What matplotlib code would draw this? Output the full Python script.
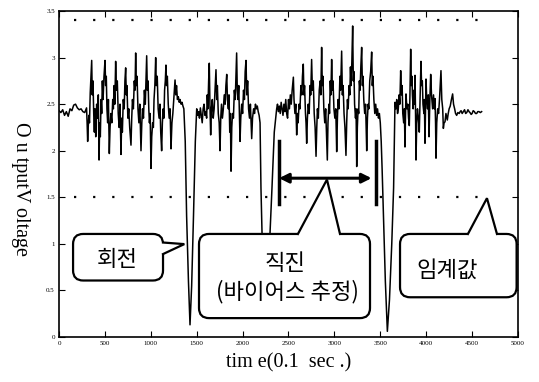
import numpy as np
import matplotlib
matplotlib.use('Agg')
import matplotlib.pyplot as plt
from matplotlib.patches import FancyBboxPatch, Polygon

plt.rcParams['font.family'] = ['Liberation Serif', 'DejaVu Serif']
KR = ['Noto Sans CJK KR', 'DejaVu Sans']

# (time [0.1 s], output voltage [V]) samples, one list per stretch of the run
idle_start = [(0, 2.43), (20, 2.41), (40, 2.44), (60, 2.38), (80, 2.42), (100, 2.37),
              (120, 2.45), (140, 2.43), (160, 2.49), (180, 2.50), (200, 2.46), (220, 2.44),
              (240, 2.45), (260, 2.42), (280, 2.41)]

run_1 = [(300, 2.46), (306, 2.30), (312, 2.10), (318, 2.25), (325, 2.38), (332, 2.30),
         (340, 2.62), (348, 2.80), (356, 2.97), (362, 2.60), (370, 2.75), (378, 2.40),
         (385, 2.20), (392, 2.45), (400, 2.15), (410, 2.50), (420, 2.35), (428, 2.60),
         (436, 1.90), (443, 2.30), (450, 2.15), (458, 2.55), (465, 2.40), (472, 2.75),
         (480, 2.55), (490, 2.80), (501, 2.97), (508, 2.70), (515, 2.80), (522, 2.45),
         (530, 2.30), (538, 2.55), (548, 1.97), (556, 2.25), (565, 2.40), (575, 2.30),
         (585, 2.55), (592, 2.45), (600, 2.70), (608, 2.50), (617, 2.96), (625, 2.65),
         (635, 2.75), (645, 2.40), (655, 2.25), (665, 2.50), (675, 1.96), (683, 2.35),
         (690, 2.20), (700, 2.55), (710, 2.45), (718, 2.75), (726, 2.89), (733, 2.60),
         (740, 2.70), (750, 2.35), (760, 2.45), (770, 2.25), (784, 2.06), (792, 2.35),
         (800, 2.55), (810, 2.45), (820, 2.75), (828, 2.65), (835, 3.05), (842, 2.70),
         (850, 2.80), (860, 2.45), (870, 2.30), (880, 2.50), (893, 2.00), (902, 2.30),
         (910, 2.45), (920, 2.35), (930, 2.65), (940, 2.50), (948, 2.80), (955, 3.02),
         (962, 2.65), (970, 2.75), (978, 2.45), (985, 2.30), (993, 2.40), (1002, 1.81),
         (1010, 2.15), (1020, 2.30), (1028, 2.25), (1035, 2.55), (1044, 2.70), (1053, 3.00),
         (1060, 2.70), (1070, 2.80), (1080, 2.45), (1090, 2.35), (1100, 2.50), (1108, 2.20),
         (1118, 2.00), (1126, 2.30), (1135, 2.45), (1143, 2.35), (1150, 2.65), (1158, 2.75),
         (1165, 2.92), (1172, 2.70), (1180, 2.80), (1190, 2.50), (1200, 2.35), (1210, 2.45),
         (1220, 2.02), (1230, 2.30), (1240, 2.40), (1250, 2.55), (1264, 2.76), (1272, 2.60),
         (1280, 2.70), (1290, 2.55), (1300, 2.58), (1310, 2.52), (1318, 2.55), (1330, 2.50),
         (1340, 2.52), (1350, 2.48), (1360, 2.45)]

turn_1 = [(1375, 2.10), (1390, 1.30), (1410, 0.60), (1427, 0.13), (1445, 0.55),
          (1465, 1.30), (1485, 2.10)]

run_2 = [(1500, 2.45), (1510, 2.38), (1520, 2.42), (1530, 2.35), (1540, 2.46), (1550, 2.38),
         (1560, 2.30), (1570, 2.45), (1580, 2.50), (1590, 2.38), (1600, 2.42), (1608, 2.35),
         (1615, 2.60), (1622, 2.45), (1630, 2.75), (1637, 2.94), (1644, 2.50), (1652, 2.17),
         (1660, 2.45), (1670, 2.55), (1680, 2.35), (1690, 2.45), (1700, 2.65), (1710, 2.87),
         (1718, 2.55), (1725, 2.70), (1735, 2.40), (1745, 2.30), (1754, 2.00), (1762, 2.35),
         (1770, 2.50), (1780, 2.35), (1790, 2.45), (1800, 2.60), (1810, 2.50), (1818, 2.70),
         (1827, 2.82), (1835, 2.55), (1845, 2.45), (1852, 2.60), (1860, 2.20), (1867, 2.40),
         (1874, 1.78), (1882, 2.25), (1890, 2.40), (1900, 2.35), (1910, 2.65), (1920, 2.55),
         (1928, 2.80), (1935, 3.05), (1942, 2.65), (1950, 2.55), (1958, 2.70), (1965, 2.40),
         (1972, 2.10), (1980, 2.35), (1990, 2.50), (2000, 2.40), (2010, 2.65), (2020, 2.55),
         (2028, 2.85), (2037, 2.97), (2045, 2.60), (2055, 2.75), (2065, 2.45), (2075, 2.35),
         (2085, 2.50), (2092, 2.30), (2099, 2.13), (2108, 2.35), (2120, 2.45), (2130, 2.40),
         (2140, 2.50), (2150, 2.45), (2160, 2.48), (2170, 2.42), (2180, 2.38)]

turn_2 = [(2190, 2.30), (2200, 1.60), (2212, 1.10), (2240, 0.85), (2270, 0.85),
          (2298, 1.10), (2320, 1.60), (2345, 2.20)]

run_3 = [(2371, 2.45), (2380, 2.50), (2390, 2.42), (2400, 2.48), (2410, 2.40), (2420, 2.52),
         (2430, 2.45), (2440, 2.38), (2450, 2.50), (2460, 2.42), (2470, 2.55), (2480, 2.40),
         (2490, 2.35), (2500, 2.55), (2510, 2.45), (2520, 2.60), (2530, 2.50), (2540, 2.65),
         (2553, 2.79), (2560, 2.55), (2570, 2.40), (2580, 2.50), (2589, 2.17), (2597, 2.40),
         (2605, 2.30), (2615, 2.50), (2625, 2.45), (2635, 2.70), (2645, 2.60), (2652, 2.80),
         (2661, 2.93), (2668, 2.60), (2675, 2.70), (2685, 2.40), (2691, 2.30), (2698, 2.08),
         (2706, 2.35), (2715, 2.50), (2725, 2.40), (2735, 2.70), (2742, 2.60), (2752, 2.98),
         (2760, 2.65), (2770, 2.75), (2780, 2.40), (2790, 2.25), (2800, 1.94), (2808, 2.25),
         (2815, 2.45), (2825, 2.35), (2835, 2.65), (2845, 2.75), (2852, 2.60), (2861, 3.11),
         (2868, 2.70), (2875, 2.80), (2885, 2.45), (2895, 2.30), (2905, 2.45), (2915, 2.15),
         (2923, 1.90), (2930, 2.30), (2940, 2.50), (2947, 2.40), (2955, 2.75), (2962, 2.60),
         (2970, 2.98), (2978, 2.65), (2985, 2.75), (2995, 2.45), (3005, 2.35), (3015, 2.45),
         (3025, 1.99), (3033, 2.35), (3040, 2.55), (3050, 2.45), (3060, 2.80), (3068, 2.65),
         (3079, 3.07), (3087, 2.60), (3095, 2.70), (3105, 2.40), (3115, 2.25), (3126, 1.95),
         (3134, 2.30), (3142, 2.55), (3150, 2.45), (3160, 2.70), (3168, 2.60), (3175, 2.90),
         (3182, 2.70), (3190, 2.95), (3199, 3.34), (3206, 2.75), (3213, 2.85), (3220, 2.50),
         (3230, 2.35), (3236, 2.45), (3243, 1.83), (3250, 2.25), (3258, 2.45), (3265, 2.40),
         (3272, 2.75), (3280, 2.65), (3288, 2.90), (3297, 3.11), (3305, 2.70), (3312, 2.80),
         (3320, 2.55), (3330, 2.40), (3340, 2.50), (3352, 2.00), (3360, 2.35), (3368, 2.50),
         (3375, 2.45), (3385, 2.75), (3395, 2.85), (3406, 3.06), (3413, 2.70), (3420, 2.80),
         (3430, 2.55), (3440, 2.40), (3450, 2.50), (3460, 2.38), (3470, 2.45), (3480, 2.35),
         (3490, 2.40), (3500, 2.30)]

turn_3 = [(3510, 2.10), (3520, 1.80), (3535, 1.30), (3555, 0.60), (3577, 0.06),
          (3600, 0.40), (3625, 1.00), (3645, 1.60)]

run_4 = [(3660, 2.52), (3670, 2.45), (3679, 2.55), (3688, 2.40), (3696, 2.45), (3705, 2.60),
         (3713, 2.50), (3722, 2.86), (3730, 2.60), (3738, 2.70), (3745, 2.40), (3755, 2.30),
         (3762, 2.45), (3769, 2.04), (3775, 2.40), (3780, 2.61), (3790, 2.45), (3800, 2.50),
         (3808, 2.35), (3816, 2.27), (3823, 2.60), (3831, 3.09), (3838, 2.70), (3845, 2.80),
         (3850, 2.60), (3858, 2.45), (3866, 2.65), (3872, 2.50), (3878, 2.81), (3884, 2.40),
         (3889, 1.90), (3897, 2.30), (3905, 2.45), (3915, 2.35), (3925, 2.20), (3933, 2.55),
         (3943, 2.96), (3950, 2.70), (3958, 2.75), (3965, 2.50), (3975, 2.40), (3980, 2.55),
         (3987, 2.08), (3993, 2.45), (3998, 2.77), (4006, 2.55), (4015, 2.45), (4023, 2.60),
         (4031, 2.15), (4040, 2.55), (4049, 2.82), (4058, 2.60), (4070, 2.45), (4080, 2.60),
         (4088, 2.45), (4096, 2.56), (4102, 2.30), (4107, 1.92), (4115, 2.30), (4125, 2.45),
         (4135, 2.40), (4145, 2.55), (4153, 2.70), (4161, 2.86), (4170, 2.55), (4180, 2.45),
         (4187, 2.24), (4195, 2.30), (4205, 2.31), (4215, 2.40), (4230, 2.33), (4240, 2.40),
         (4250, 2.45), (4262, 2.48), (4275, 2.55), (4288, 2.61), (4298, 2.50), (4310, 2.45),
         (4320, 2.40), (4332, 2.38), (4345, 2.41), (4360, 2.40), (4370, 2.42), (4380, 2.43),
         (4392, 2.40), (4405, 2.42), (4418, 2.44), (4430, 2.40), (4442, 2.41), (4455, 2.44),
         (4467, 2.42), (4477, 2.41), (4490, 2.39), (4500, 2.40), (4512, 2.43), (4525, 2.42),
         (4537, 2.40), (4550, 2.40), (4562, 2.42), (4575, 2.42), (4590, 2.41), (4604, 2.42)]

upper_level = 3.4
threshold = 1.5
dotted_span = [160, 4660]

x_ticks = [0, 500, 1000, 1500, 2000, 2500, 3000, 3500, 4000, 4500, 5000]
y_ticks = [0, 0.5, 1, 1.5, 2, 2.5, 3, 3.5]
y_ticklabels = ['0', '0.5', '1', '1.5', '2', '2.5', '3', '3.5']

# straight-run window (bias estimation)
straight_start, straight_end = 2397, 3455
marker_low, marker_high = 1.43, 2.1
arrow_level = 1.705

samples = np.array(idle_start + run_1 + turn_1 + run_2 + turn_2 + run_3 + turn_3 + run_4)
time, voltage = samples[:, 0], samples[:, 1]

fig = plt.figure(figsize=(5.39, 3.82), dpi=100)
ax = fig.add_axes([0.1095, 0.118, 0.8515, 0.853])

ax.plot(time, voltage, color='black', lw=1.1, zorder=2)
for lvl in (upper_level, threshold):
    ax.plot(dotted_span, [lvl, lvl], color='black', lw=1.6,
            linestyle=(0, (1.0, 7.6)), zorder=1)

ax.plot([straight_start, straight_start], [marker_low, marker_high], color='black', lw=2.5, zorder=3)
ax.plot([straight_end, straight_end], [marker_low, marker_high], color='black', lw=2.5, zorder=3)
ax.annotate('', xy=(straight_start, arrow_level), xytext=(straight_end - 50, arrow_level),
            arrowprops=dict(arrowstyle='<|-|>', color='black', lw=2.2,
                            mutation_scale=14, shrinkA=0, shrinkB=0), zorder=4)

ax.set_xlim(0, 5000)
ax.set_ylim(0, 3.5)
ax.set_xticks(x_ticks)
ax.set_xticklabels([str(v) for v in x_ticks])
ax.set_yticks(y_ticks)
ax.set_yticklabels(y_ticklabels)
ax.tick_params(direction='in', top=True, right=True, length=4, width=0.8,
               labelsize=5, pad=3)
for s in ax.spines.values():
    s.set_linewidth(1.2)

ax.set_xlabel('tim e(0.1  sec .)', fontsize=14.5, labelpad=5)
ax.set_ylabel('O u tputV oltage', fontsize=14.5, rotation=270, va='center')
ax.yaxis.set_label_coords(-0.085, 0.455)

# speech-bubble callouts; radius given in x units, aspect keeps corners round
aspect = (3.5 / (0.853 * 382)) / (5000 / (0.8515 * 539))
radius = 110


def callout(x0, y0, x1, y1, pointer, tip, side='top'):
    box = FancyBboxPatch((x0, y0), x1 - x0, y1 - y0,
                         boxstyle=f'round,pad=0,rounding_size={radius}',
                         mutation_aspect=aspect, fc='white', ec='black',
                         lw=1.6, zorder=5)
    ax.add_patch(box)
    (bx0, by0), (bx1, by1) = pointer
    if side == 'top':
        inner = [(bx0, by0 - 0.03), (bx1, by1 - 0.03)]
    else:
        inner = [(bx0 - 30, by0), (bx1 - 30, by1)]
    ax.add_patch(Polygon([inner[0], (bx0, by0), tip, (bx1, by1), inner[1]],
                         closed=True, fc='white', ec='none', zorder=6))
    ax.plot([bx0, tip[0], bx1], [by0, tip[1], by1], color='black', lw=1.6,
            solid_joinstyle='miter', zorder=7)


def label(x, y, text):
    ax.text(x, y, text, ha='center', va='center', fontsize=16, family=KR, zorder=8)


callout(153, 0.606, 1133, 1.106, [(1133, 1.014), (1133, 0.89)], (1365, 0.997), side='right')
callout(1525, 0.202, 3388, 1.106, [(2603, 1.106), (3061, 1.106)], (2919, 1.69))
callout(3715, 0.426, 4985, 1.106, [(4455, 1.106), (4771, 1.106)], (4662, 1.49))

label(637, 0.83, '회전')
label(2462, 0.79, '직진')
label(2484, 0.49, '(바이어스 추정)')
label(4227, 0.72, '임계값')

fig.savefig('out.png', dpi=100)
